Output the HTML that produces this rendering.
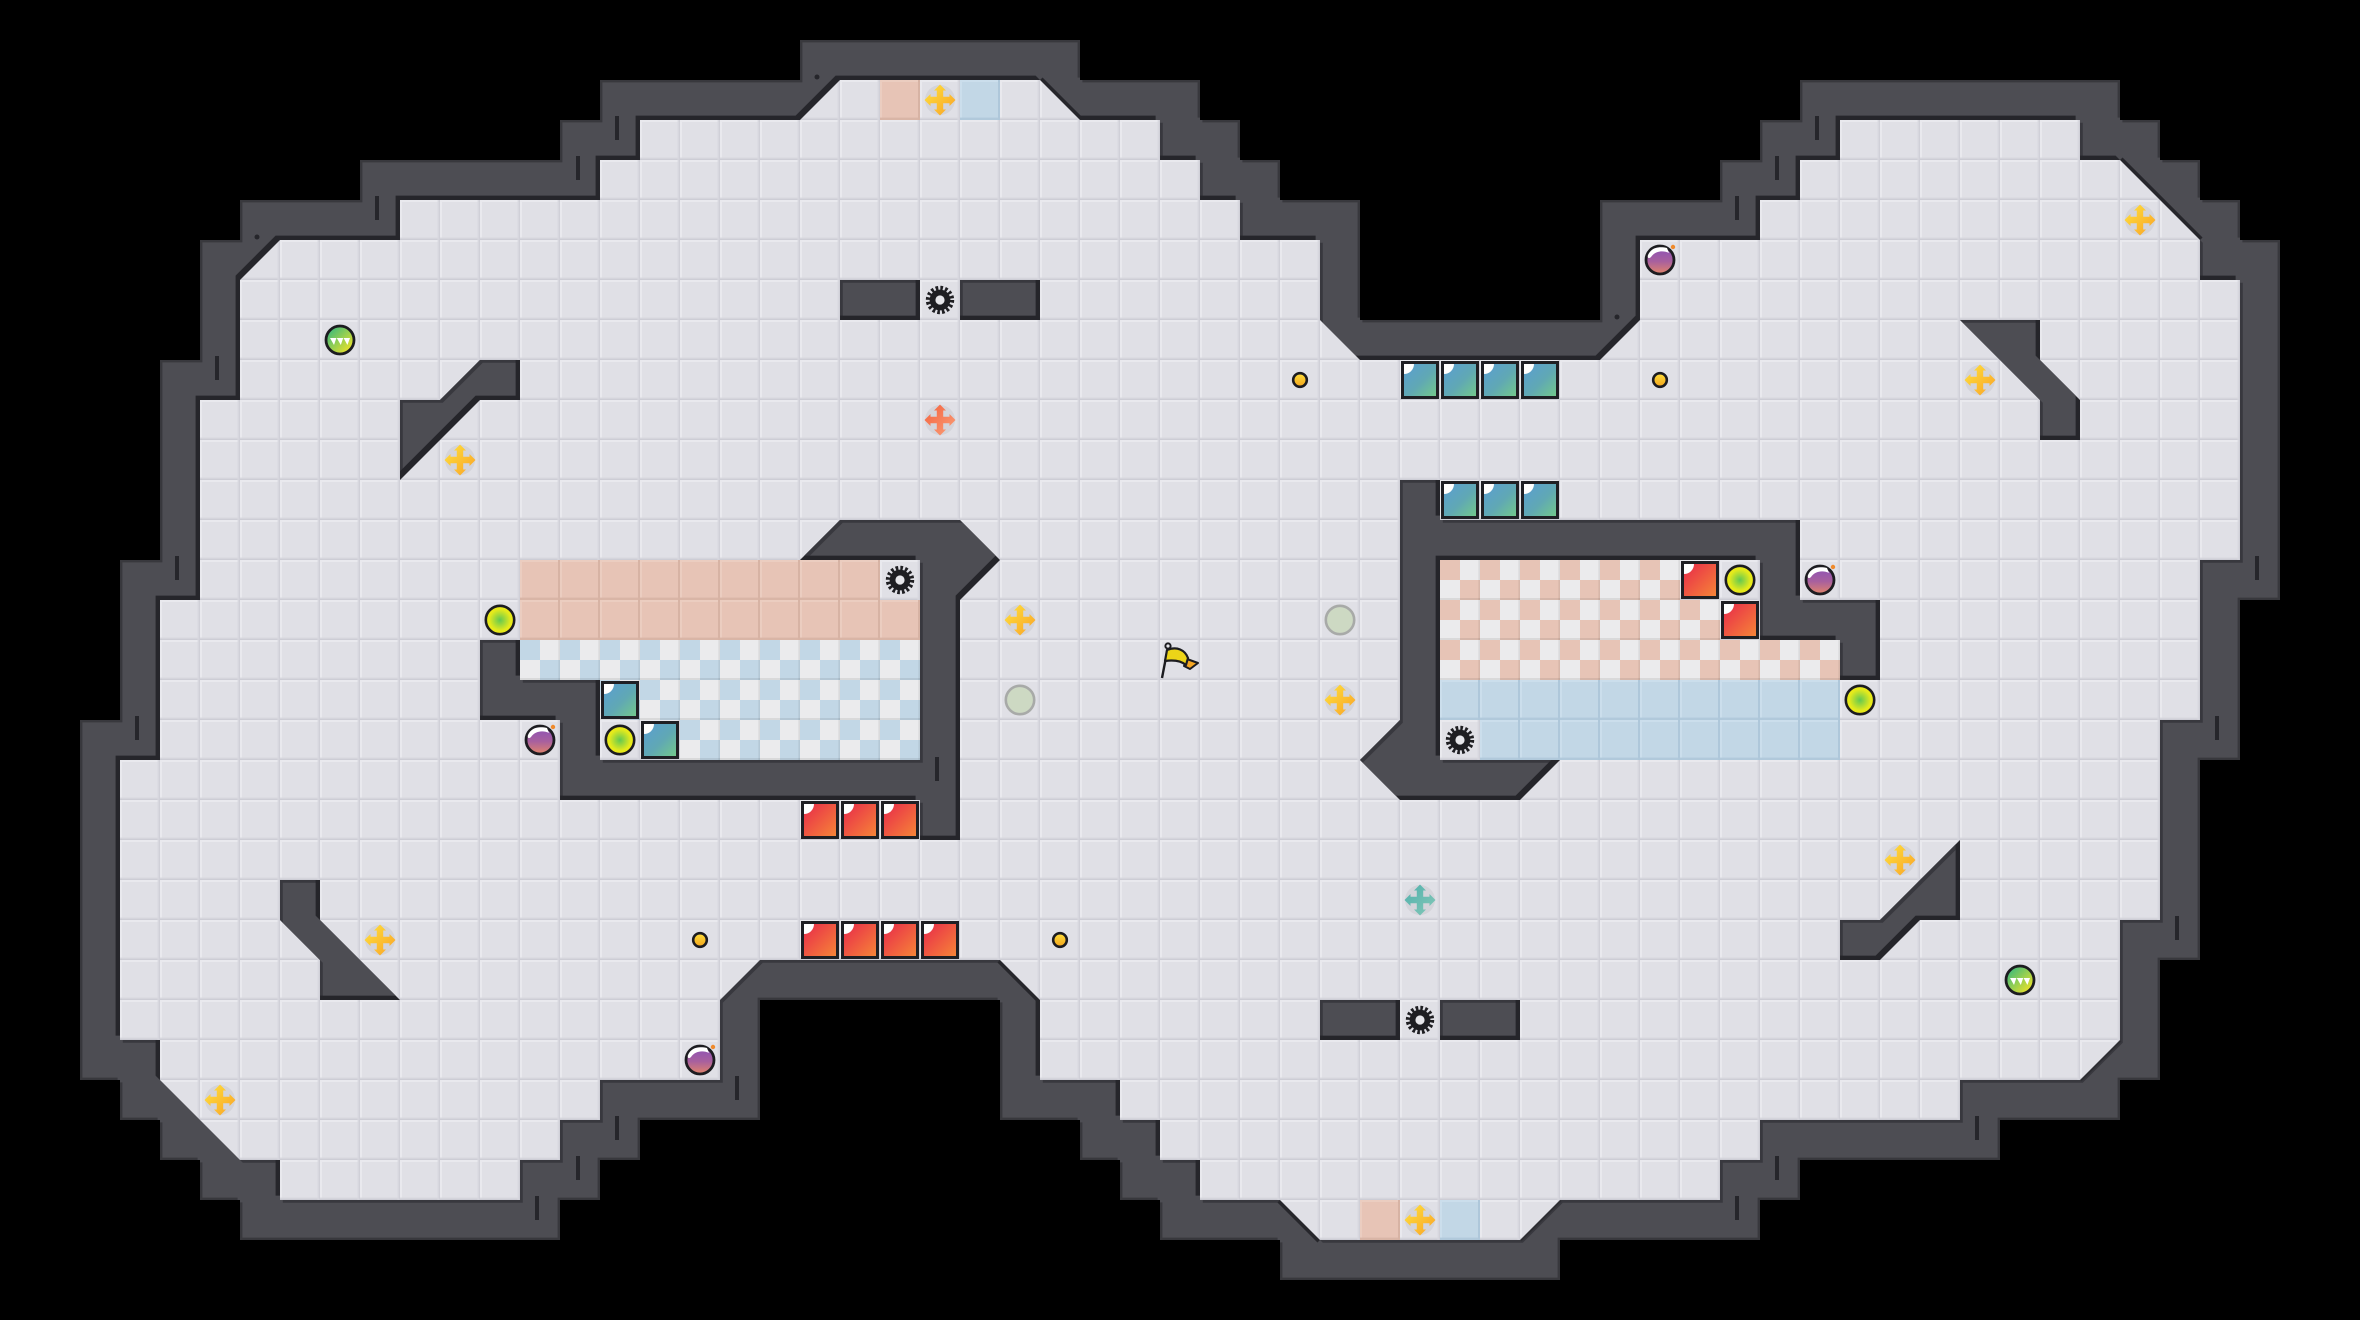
<!DOCTYPE html>
<html><head><meta charset="utf-8"><title>Map</title>
<style>html,body{margin:0;padding:0;background:#000}svg{display:block}</style></head>
<body>
<svg xmlns="http://www.w3.org/2000/svg" width="2360" height="1320" viewBox="0 0 2360 1320">
<defs>
<polygon id="out" points="20,1 27,1 27,2 30,2 30,3 31,3 31,4 32,4 32,5 34,5 34,8 40,8 40,5 43,5 43,4 44,4 44,3 45,3 45,2 53,2 53,3 54,3 54,4 55,4 55,5 56,5 56,6 57,6 57,15 56,15 56,19 55,19 55,24 54,24 54,27 53,27 53,28 50,28 50,29 45,29 45,30 44,30 44,31 39,31 39,32 32,32 32,31 29,31 29,30 28,30 28,29 27,29 27,28 25,28 25,25 19,25 19,28 16,28 16,29 15,29 15,30 14,30 14,31 6,31 6,30 5,30 5,29 4,29 4,28 3,28 3,27 2,27 2,18 3,18 3,14 4,14 4,9 5,9 5,6 6,6 6,5 9,5 9,4 14,4 14,3 15,3 15,2 20,2"/>
<polygon id="flr" points="21,2 26,2 27,3 29,3 29,4 30,4 30,5 31,5 31,6 33,6 33,8 34,9 40,9 41,8 41,6 44,6 44,5 45,5 45,4 46,4 46,3 52,3 52,4 53,4 55,6 55,7 56,7 56,14 55,14 55,18 54,18 54,23 53,23 53,26 52,27 49,27 49,28 44,28 44,29 43,29 43,30 39,30 38,31 33,31 32,30 30,30 30,29 29,29 29,28 28,28 28,27 26,27 26,25 25,24 19,24 18,25 18,27 15,27 15,28 14,28 14,29 13,29 13,30 7,30 7,29 6,29 4,27 4,26 3,26 3,19 4,19 4,15 5,15 5,10 6,10 6,7 7,6 10,6 10,5 15,5 15,4 16,4 16,3 20,3"/>
<path id="isl" d="M21,13L24,13 25,14 24,15 24,21 23,21 23,20 14,20 14,18 12,18 12,16 13,16 13,17 15,17 15,19 23,19 23,14 20,14Z M35,12L36,12 36,13 45,13 45,15 47,15 47,17 46,17 46,16 44,16 44,14 36,14 36,19 39,19 38,20 35,20 34,19 35,18Z M21,7H23V8H21Z M24,7H26V8H24Z M33,25H35V26H33Z M36,25H38V26H36Z M12,9H13V10H12L10,12V10H11Z M49,8H51V9L52,10V11H51V10Z M7,22H8V23L10,25H8V24L7,23Z M49,21V23H48L47,24H46V23H47Z"/>
<clipPath id="cOut"><use href="#out"/></clipPath>
<clipPath id="cOut2"><use href="#out" transform="translate(.06,.06)"/></clipPath>
<clipPath id="cIsl"><use href="#isl"/></clipPath>
<clipPath id="cIsl2"><use href="#isl" transform="translate(.07,.07)"/></clipPath>

<pattern id="t" width="1" height="1" patternUnits="userSpaceOnUse">
<rect width="1" height="1" fill="#e0e0e6"/><rect width="1" height=".05" fill="#e9e9ee"/><rect width=".05" height="1" fill="#e9e9ee"/><rect y=".94" width="1" height=".03" fill="#d6d6dd"/><rect y=".97" width="1" height=".03" fill="#cdcdd5"/><rect x=".94" width=".03" height="1" fill="#d8d8df"/><rect x=".97" width=".03" height="1" fill="#d0d0d8"/></pattern>
<pattern id="pe" width="1" height="1" patternUnits="userSpaceOnUse">
<rect width="1" height="1" fill="#e7c4b6"/><rect width="1" height=".05" fill="#ebcdc0"/><rect width=".05" height="1" fill="#ebcdc0"/><rect y=".94" width="1" height=".06" fill="#d9b5a6"/><rect x=".95" width=".05" height="1" fill="#d7b3a4"/></pattern>
<pattern id="bl" width="1" height="1" patternUnits="userSpaceOnUse">
<rect width="1" height="1" fill="#c2d7e6"/><rect width="1" height=".05" fill="#cbdeec"/><rect width=".05" height="1" fill="#cbdeec"/><rect y=".94" width="1" height=".06" fill="#b1c9db"/><rect x=".95" width=".05" height="1" fill="#aec7da"/></pattern>
<pattern id="cb" width="1" height="1" patternUnits="userSpaceOnUse">
<rect width="1" height="1" fill="#ebebed"/><rect width=".5" height=".5" fill="#c2d7e6"/><rect x=".5" y=".5" width=".5" height=".5" fill="#c2d7e6"/><rect y=".95" width="1" height=".05" fill="#000" opacity=".08"/><rect x=".96" width=".04" height="1" fill="#000" opacity=".07"/></pattern>
<pattern id="cp" width="1" height="1" patternUnits="userSpaceOnUse">
<rect width="1" height="1" fill="#ebebed"/><rect width=".5" height=".5" fill="#e7c4b6"/><rect x=".5" y=".5" width=".5" height=".5" fill="#e7c4b6"/><rect y=".95" width="1" height=".05" fill="#000" opacity=".08"/><rect x=".96" width=".04" height="1" fill="#000" opacity=".07"/></pattern>

<linearGradient id="gT" x1="0" y1="0" x2="1" y2="1"><stop offset="0" stop-color="#5a9ed2"/><stop offset=".55" stop-color="#60a8b4"/><stop offset="1" stop-color="#72c88c"/></linearGradient>
<linearGradient id="gR" x1="0" y1="0" x2="1" y2="1"><stop offset="0" stop-color="#e82a4a"/><stop offset="1" stop-color="#f68438"/></linearGradient>
<linearGradient id="gY" x1="0" y1="0" x2="1" y2="1"><stop offset="0" stop-color="#ffe23c"/><stop offset="1" stop-color="#f9a228"/></linearGradient>
<linearGradient id="gO" x1="0" y1="0" x2="1" y2="1"><stop offset="0" stop-color="#f5603c"/><stop offset="1" stop-color="#f9a07a"/></linearGradient>
<linearGradient id="gC" x1="0" y1="0" x2="1" y2="1"><stop offset="0" stop-color="#4fb0ac"/><stop offset="1" stop-color="#86c8b8"/></linearGradient>
<linearGradient id="gB" x1="0" y1="0" x2="0" y2="1"><stop offset="0" stop-color="#8a50b8"/><stop offset=".55" stop-color="#a8609e"/><stop offset="1" stop-color="#e2846a"/></linearGradient>
<linearGradient id="gG" x1="0" y1="0" x2="1" y2="1"><stop offset="0" stop-color="#22b488"/><stop offset=".9" stop-color="#f2e426"/></linearGradient>
<radialGradient id="gL"><stop offset="0" stop-color="#62c852"/><stop offset=".75" stop-color="#e4ea1c"/><stop offset="1" stop-color="#eeea14"/></radialGradient>
<linearGradient id="gS" x1="0" y1="0" x2="0" y2="1"><stop offset="0" stop-color="#ffdf3a"/><stop offset="1" stop-color="#f3a51e"/></linearGradient>

<g id="teal"><rect x="1" y="1" width="38" height="38" fill="#1f1f24"/><rect x="4" y="4" width="32" height="32" fill="url(#gT)"/><path d="M4,4h10a10,10 0 0 1 -10,10z" fill="#fff"/></g>
<g id="red"><rect x="1" y="1" width="38" height="38" fill="#1f1f24"/><rect x="4" y="4" width="32" height="32" fill="url(#gR)"/><path d="M4,4h10a10,10 0 0 1 -10,10z" fill="#fff"/></g>
<g id="gear"><circle r="12" fill="none" stroke="#1e1e22" stroke-width="4.4" stroke-dasharray="2.6 2.112"/><circle r="10.4" fill="#1e1e22"/><circle r="4.6" fill="#e6e6ea"/></g>
<path id="cr" d="M0,-15.5L6,-9.5H3.2V-3.2H9.5V-6L15.5,0 9.5,6V3.2H3.2V9.5H6L0,15.5 -6,9.5H-3.2V3.2H-9.5V6L-15.5,0 -9.5,-6V-3.2H-3.2V-9.5H-6Z"/>
<circle id="disc" r="15" fill="#d4d4da"/>
<g id="bomb"><circle r="14" fill="url(#gB)" stroke="#1c1c20" stroke-width="2.8"/><path d="M-12,-5C-9,-12 -2,-14 7,-12L9,-7C3,-10 -5,-9 -9,-3C-11,-1 -13,-2 -12,-5Z" fill="#fff"/><circle cx="13" cy="-13" r="2.2" fill="#ef8a2c"/></g>
<g id="grn"><circle r="14" fill="url(#gG)" stroke="#1c1c20" stroke-width="2.8"/><path d="M-10,-2H-3.6L-6,5ZM-3.2,-2H3.2L.8,5ZM3.6,-2H10L7.4,5Z" fill="#fff"/></g>
<circle id="yel" r="14.2" fill="url(#gL)" stroke="#1c1c20" stroke-width="2.6"/>
<circle id="pale" r="14.2" fill="#cdd9c3" stroke="#a8aaa8" stroke-width="2.6"/>
<circle id="coin" r="6.8" fill="url(#gS)" stroke="#1c1c20" stroke-width="2.6"/>
</defs>

<rect width="2360" height="1320" fill="#000"/>

<g transform="scale(40)">
  <!-- outer wall -->
  <use href="#out" fill="#38383d"/>
  <g clip-path="url(#cOut)"><g clip-path="url(#cOut2)"><use href="#out" transform="translate(-.06,-.06)" fill="#4d4d53"/></g></g>
  <!-- floor-adjacent bands -->
  <g clip-path="url(#cOut)">
    <use href="#flr" transform="translate(.07,.07)" fill="#38383e"/>
    <use href="#flr" transform="translate(-.11,-.11)" fill="#26262b"/>
    <path d="M26,2L27,3M53,4L55,6M32,30L33,31M25,24L26,25" stroke="#26262b" stroke-width=".18" fill="none"/>
    <path d="M38,31L39,30M52,27L53,26" stroke="#2e2e33" stroke-width=".1" fill="none"/>
  </g>
  <!-- floor -->
  <use href="#flr" fill="url(#t)"/>
  <!-- coloured cells -->
  <rect x="22" y="2" width="1" height="1" fill="url(#pe)"/>
  <rect x="24" y="2" width="1" height="1" fill="url(#bl)"/>
  <rect x="34" y="30" width="1" height="1" fill="url(#pe)"/>
  <rect x="36" y="30" width="1" height="1" fill="url(#bl)"/>
  <rect x="13" y="14" width="9" height="1" fill="url(#pe)"/>
  <rect x="13" y="15" width="10" height="1" fill="url(#pe)"/>
  <rect x="13" y="16" width="10" height="1" fill="url(#cb)"/>
  <rect x="15" y="17" width="8" height="1" fill="url(#cb)"/>
  <rect x="17" y="18" width="6" height="1" fill="url(#cb)"/>
  <rect x="36" y="14" width="6" height="1" fill="url(#cp)"/>
  <rect x="36" y="15" width="7" height="1" fill="url(#cp)"/>
  <rect x="36" y="16" width="10" height="1" fill="url(#cp)"/>
  <rect x="36" y="17" width="10" height="1" fill="url(#bl)"/>
  <rect x="37" y="18" width="9" height="1" fill="url(#bl)"/>
  <!-- islands -->
  <use href="#isl" fill="#25252a"/>
  <g clip-path="url(#cIsl)">
    <use href="#isl" transform="translate(-.11,-.11)" fill="#38383e"/>
    <g clip-path="url(#cIsl2)"><use href="#isl" transform="translate(-.11,-.11)" fill="#4d4d53"/></g>
  </g>
</g>

<!-- wall ticks and dots -->
<path d="M937,757v24M217,356v24M617,116v24M578,156v24M377,196v24M177,556v24M137,716v24M737,1076v24M617,1116v24M578,1156v24M537,1196v24M1817,116v24M1777,156v24M1737,196v24M2257,556v24M2217,716v24M2177,916v24M1977,1116v24M1777,1156v24M1737,1196v24" stroke="#26262b" stroke-width="4" fill="none"/>
<circle cx="817" cy="77" r="2.5" fill="#26262b"/><circle cx="257" cy="237" r="2.5" fill="#26262b"/><circle cx="1617" cy="317" r="2.5" fill="#26262b"/>

<!-- blocks -->
<use href="#teal" x="1400" y="360"/><use href="#teal" x="1440" y="360"/><use href="#teal" x="1480" y="360"/><use href="#teal" x="1520" y="360"/>
<use href="#teal" x="1440" y="480"/><use href="#teal" x="1480" y="480"/><use href="#teal" x="1520" y="480"/>
<use href="#teal" x="600" y="680"/><use href="#teal" x="640" y="720"/>
<use href="#red" x="800" y="800"/><use href="#red" x="840" y="800"/><use href="#red" x="880" y="800"/>
<use href="#red" x="800" y="920"/><use href="#red" x="840" y="920"/><use href="#red" x="880" y="920"/><use href="#red" x="920" y="920"/>
<use href="#red" x="1680" y="560"/><use href="#red" x="1720" y="600"/>

<!-- gears -->
<use href="#gear" x="900" y="580"/><use href="#gear" x="940" y="300"/><use href="#gear" x="1460" y="740"/><use href="#gear" x="1420" y="1020"/>

<!-- crosses -->
<g>
<use href="#disc" x="940" y="100"/><use href="#cr" x="940" y="100" fill="url(#gY)"/>
<use href="#disc" x="1420" y="1220"/><use href="#cr" x="1420" y="1220" fill="url(#gY)"/>
<use href="#disc" x="460" y="460"/><use href="#cr" x="460" y="460" fill="url(#gY)"/>
<use href="#disc" x="380" y="940"/><use href="#cr" x="380" y="940" fill="url(#gY)"/>
<use href="#disc" x="220" y="1100"/><use href="#cr" x="220" y="1100" fill="url(#gY)"/>
<use href="#disc" x="1020" y="620"/><use href="#cr" x="1020" y="620" fill="url(#gY)"/>
<use href="#disc" x="1340" y="700"/><use href="#cr" x="1340" y="700" fill="url(#gY)"/>
<use href="#disc" x="1980" y="380"/><use href="#cr" x="1980" y="380" fill="url(#gY)"/>
<use href="#disc" x="2140" y="220"/><use href="#cr" x="2140" y="220" fill="url(#gY)"/>
<use href="#disc" x="1900" y="860"/><use href="#cr" x="1900" y="860" fill="url(#gY)"/>
<use href="#disc" x="940" y="420"/><use href="#cr" x="940" y="420" fill="url(#gO)"/>
<use href="#disc" x="1420" y="900"/><use href="#cr" x="1420" y="900" fill="url(#gC)"/>
</g>

<!-- circles -->
<use href="#yel" x="500" y="620"/><use href="#yel" x="620" y="740"/><use href="#yel" x="1740" y="580"/><use href="#yel" x="1860" y="700"/>
<use href="#pale" x="1340" y="620"/><use href="#pale" x="1020" y="700"/>
<use href="#bomb" x="540" y="740"/><use href="#bomb" x="1660" y="260"/><use href="#bomb" x="700" y="1060"/><use href="#bomb" x="1820" y="580"/>
<use href="#grn" x="340" y="340"/><use href="#grn" x="2020" y="980"/>
<use href="#coin" x="700" y="940"/><use href="#coin" x="1660" y="380"/><use href="#coin" x="1300" y="380"/><use href="#coin" x="1060" y="940"/>

<!-- flag -->
<g stroke="#1c1c20" stroke-linejoin="round">
<path d="M1162,678L1168,647" stroke-width="2.4" fill="none"/>
<path d="M1187,659L1198,663L1190,669L1184,666Z" fill="#f5a623" stroke-width="2"/>
<path d="M1167,650C1177,646 1185,650 1188,658L1186,665C1180,660 1172,660 1165,661Z" fill="#ecd418" stroke-width="2.2"/>
<circle cx="1168" cy="646" r="2.6" fill="#e8e8ec" stroke-width="2"/>
</g>
</svg>
</body></html>
